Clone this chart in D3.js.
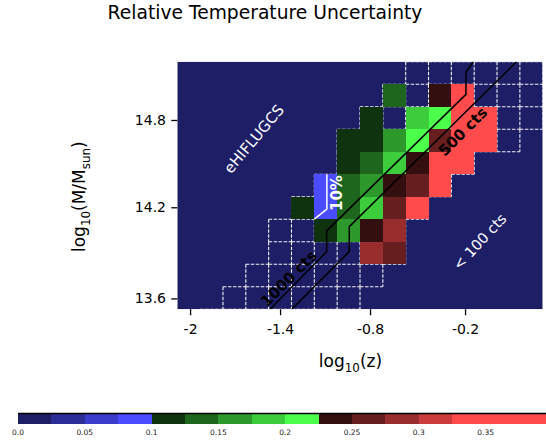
<!DOCTYPE html>
<html>
<head>
<meta charset="utf-8">
<script src="https://cdn.jsdelivr.net/npm/d3@7"></script>
<style>
  body { margin: 0; background: #fff; }
  text { font-family: "DejaVu Sans", sans-serif; }
</style>
</head>
<body>
<svg id="chart" width="546" height="443"></svg>
<script>
// Relative temperature uncertainty on a grid of redshift (columns) by mass (rows, top = high mass).
// null = no temperature estimate in that cell.
const uncertaintyRows = [
  [null, null, null, null, null, null, null, null, null, null, null, null, null, null, null, null],
  [null, null, null, null, null, null, null, null, null, 0.14, null, 0.24, 0.34, null, null, null],
  [null, null, null, null, null, null, null, null, 0.11, null, 0.19, 0.21, 0.34, 0.34, null, null],
  [null, null, null, null, null, null, null, 0.11, 0.11, 0.16, 0.21, 0.26, 0.34, 0.34, null, null],
  [null, null, null, null, null, null, null, 0.11, 0.14, 0.19, 0.24, 0.34, 0.34, null, null, null],
  [null, null, null, null, null, null, 0.09, 0.14, 0.16, 0.24, 0.26, 0.34, null, null, null, null],
  [null, null, null, null, null, 0.11, 0.09, 0.14, 0.19, 0.26, 0.34, null, null, null, null, null],
  [null, null, null, null, null, null, 0.11, 0.16, 0.24, 0.29, null, null, null, null, null, null],
  [null, null, null, null, null, null, null, null, 0.29, 0.26, null, null, null, null, null, null],
  [null, null, null, null, null, null, null, null, null, null, null, null, null, null, null, null],
  [null, null, null, null, null, null, null, null, null, null, null, null, null, null, null, null],
  [null, null, null, null, null, null, null, null, null, null, null, null, null, null, null, null]
];

// Cells covered by the simulated sample (dashed outlines); the last row sits just below the plotted range.
const footprintRows = [
  "0000000000111111",
  "0000000001111111",
  "0000000011111111",
  "0000000111111110",
  "0000000111111000",
  "0000001111110000",
  "0000011111100000",
  "0000111111000000",
  "0000111111000000",
  "0001111110000000",
  "0011111100000000",
  "0111111000000000"
];

// Tick positions in cell units and their labels
const xTickPos = [0.56, 4.5, 8.44, 12.6];
const xTickLabels = ["-2", "-1.4", "-0.8", "-0.2"];
const yTickPos = [2.59, 6.47, 10.52];
const yTickLabels = ["14.8", "14.2", "13.6"];

// Count contours (cell units: [column, row])
const contour1000 = [[4.06, 11], [6.54, 8.44], [6.54, 7.52], [12.64, 1.45], [12.64, 0.46], [12.96, 0]];
const contour500 = [[5.01, 11], [7.53, 8.44], [7.53, 7.33], [14.86, 0]];
const contour10pct = [[6.0, 7.0], [6.55, 6.55], [6.55, 5.0]];

// Colour levels
const levelStep = 0.025;
const levelThresholds = d3.range(1, 14).map(i => +(i * levelStep).toFixed(3)); // 0.025 .. 0.325
const palette = [
  "#1e1e66", "#2d2d99", "#3c3ccc", "#4b4bff",
  "#0f330f", "#1e661e", "#2d992d", "#3ccc3c", "#4bff4b",
  "#330f0f", "#661e1e", "#992d2d", "#cc3c3c", "#ff4b4b"
];
const cbarMax = 0.4;
const cbarTicks = [0, 0.05, 0.1, 0.15, 0.2, 0.25, 0.3, 0.35];
const cbarTickLabels = ["0.0", "0.05", "0.1", "0.15", "0.2", "0.25", "0.3", "0.35"];

// Annotations placed in cell units
const annotations = [
  { text: "eHIFLUGCS", col: 3.36, row: 3.44, angle: -50, color: "#ffffff", weight: "normal", size: 15 },
  { text: "< 100 cts", col: 13.25, row: 8.0, angle: -47, color: "#ffffff", weight: "normal", size: 14.5 },
  { text: "10%", col: 7.0, row: 5.84, angle: -90, color: "#ffffff", weight: "bold", size: 15 },
  { text: "1000 cts", col: 4.89, row: 9.64, angle: -45, color: "#000000", weight: "bold", size: 15 },
  { text: "500 cts", col: 12.51, row: 3.11, angle: -45, color: "#000000", weight: "bold", size: 15 }
];

const nCols = 16, nVisibleRows = 11;
const plot = { left: 177.3, right: 542.7, top: 61.7, bottom: 309.2 };

const svg = d3.select("#chart");
const x = d3.scaleLinear([0, nCols], [plot.left, plot.right]);
const y = d3.scaleLinear([0, nVisibleRows], [plot.top, plot.bottom]);
const color = d3.scaleThreshold(levelThresholds, palette);

// Title
svg.append("text")
  .attr("x", 265).attr("y", 18.5)
  .attr("text-anchor", "middle")
  .attr("font-size", 18.7)
  .attr("fill", "#000")
  .text("Relative Temperature Uncertainty");

// Clip to plotting area
svg.append("defs").append("clipPath").attr("id", "plotClip")
  .append("rect")
  .attr("x", plot.left).attr("y", plot.top)
  .attr("width", plot.right - plot.left).attr("height", plot.bottom - plot.top);

const g = svg.append("g").attr("clip-path", "url(#plotClip)");

// Background: lowest colour level
g.append("rect")
  .attr("x", plot.left).attr("y", plot.top)
  .attr("width", plot.right - plot.left).attr("height", plot.bottom - plot.top)
  .attr("fill", color(0));

// Dashed outlines of footprint cells (shared edges drawn once)
const edgeMap = new Map();
footprintRows.forEach((rowStr, r) => {
  for (let c = 0; c < rowStr.length; c++) {
    if (rowStr[c] !== "1") continue;
    const segs = [
      [c, r, c + 1, r], [c, r + 1, c + 1, r + 1],
      [c, r, c, r + 1], [c + 1, r, c + 1, r + 1]
    ];
    segs.forEach(s => edgeMap.set(s.join(","), s));
  }
});
g.append("g")
  .selectAll("line")
  .data(Array.from(edgeMap.values()))
  .join("line")
  .attr("x1", d => x(d[0])).attr("y1", d => y(d[1]))
  .attr("x2", d => x(d[2])).attr("y2", d => y(d[3]))
  .attr("stroke", "#f4f4f4")
  .attr("stroke-width", 1.1)
  .attr("stroke-dasharray", "3.5,1.5");

// Filled cells
const cells = [];
uncertaintyRows.forEach((row, r) => row.forEach((v, c) => {
  if (v !== null) cells.push({ r, c, v });
}));
g.append("g")
  .selectAll("rect")
  .data(cells)
  .join("rect")
  .attr("x", d => x(d.c)).attr("y", d => y(d.r))
  .attr("width", d => x(d.c + 1) - x(d.c))
  .attr("height", d => y(d.r + 1) - y(d.r))
  .attr("fill", d => color(d.v))
  .attr("shape-rendering", "crispEdges");

// Contours
const line = d3.line().x(d => x(d[0])).y(d => y(d[1]));
g.append("path").datum(contour1000).attr("d", line)
  .attr("fill", "none").attr("stroke", "#000").attr("stroke-width", 1.5);
g.append("path").datum(contour500).attr("d", line)
  .attr("fill", "none").attr("stroke", "#000").attr("stroke-width", 1.5);
g.append("path").datum(contour10pct).attr("d", line)
  .attr("fill", "none").attr("stroke", "#fff").attr("stroke-width", 1.5);

// Annotations
g.append("g").selectAll("text")
  .data(annotations)
  .join("text")
  .attr("transform", d => `translate(${x(d.col)},${y(d.row)}) rotate(${d.angle})`)
  .attr("text-anchor", "middle")
  .attr("dominant-baseline", "central")
  .attr("font-size", d => d.size)
  .attr("font-weight", d => d.weight)
  .attr("fill", d => d.color)
  .text(d => d.text);

// Axes
const xAxis = d3.axisBottom(x)
  .tickValues(xTickPos)
  .tickFormat((d, i) => xTickLabels[i])
  .tickSize(6).tickSizeOuter(0).tickPadding(9);
const gx = svg.append("g").attr("transform", `translate(0,${plot.bottom})`).call(xAxis);
gx.select(".domain").remove();
gx.selectAll(".tick line").attr("stroke", "#000").attr("stroke-width", 1.3);
gx.selectAll(".tick text").attr("font-size", 14).attr("fill", "#000")
  .attr("font-family", "DejaVu Sans, sans-serif");

const yAxis = d3.axisLeft(y)
  .tickValues(yTickPos)
  .tickFormat((d, i) => yTickLabels[i])
  .tickSize(6).tickSizeOuter(0).tickPadding(5.3);
const gy = svg.append("g").attr("transform", `translate(${plot.left},0)`).call(yAxis);
gy.select(".domain").remove();
gy.selectAll(".tick line").attr("stroke", "#000").attr("stroke-width", 1.3);
gy.selectAll(".tick text").attr("font-size", 14).attr("fill", "#000")
  .attr("font-family", "DejaVu Sans, sans-serif");

// Axis labels with subscripts
function labelWithSub(sel, parts) {
  parts.forEach(p => {
    const t = sel.append("tspan").text(p.t);
    if (p.sub) t.attr("font-size", "70%").attr("dy", 5);
    else if (p.after) t.attr("dy", -5);
  });
}
const xl = svg.append("text")
  .attr("x", 350.5).attr("y", 367)
  .attr("text-anchor", "middle").attr("font-size", 17).attr("fill", "#000");
labelWithSub(xl, [{ t: "log" }, { t: "10", sub: true }, { t: "(z)", after: true }]);

const yl = svg.append("text")
  .attr("transform", "translate(85,196.7) rotate(-90)")
  .attr("text-anchor", "middle").attr("font-size", 17).attr("fill", "#000");
labelWithSub(yl, [{ t: "log" }, { t: "10", sub: true }, { t: "(M/M", after: true }, { t: "sun", sub: true }, { t: ")", after: true }]);

// Colour bar
const cb = d3.scaleLinear([0, cbarMax], [18, 552.4]);
const cbTop = 413.5, cbBottom = 424;
const cbEdges = [0, ...levelThresholds, cbarMax];
svg.append("g").selectAll("rect")
  .data(d3.range(cbEdges.length - 1))
  .join("rect")
  .attr("x", i => cb(cbEdges[i]))
  .attr("y", cbTop)
  .attr("width", i => cb(cbEdges[i + 1]) - cb(cbEdges[i]))
  .attr("height", cbBottom - cbTop)
  .attr("fill", i => palette[i])
  .attr("shape-rendering", "crispEdges");
svg.append("line")
  .attr("x1", cb(0)).attr("x2", cb(cbarMax))
  .attr("y1", cbTop).attr("y2", cbTop)
  .attr("stroke", "#000").attr("stroke-width", 1.3);
svg.append("g").selectAll("text")
  .data(cbarTicks)
  .join("text")
  .attr("x", d => cb(d)).attr("y", 435)
  .attr("text-anchor", "middle")
  .attr("font-size", 7.5)
  .attr("fill", "#222")
  .text((d, i) => cbarTickLabels[i]);
</script>
</body>
</html>
